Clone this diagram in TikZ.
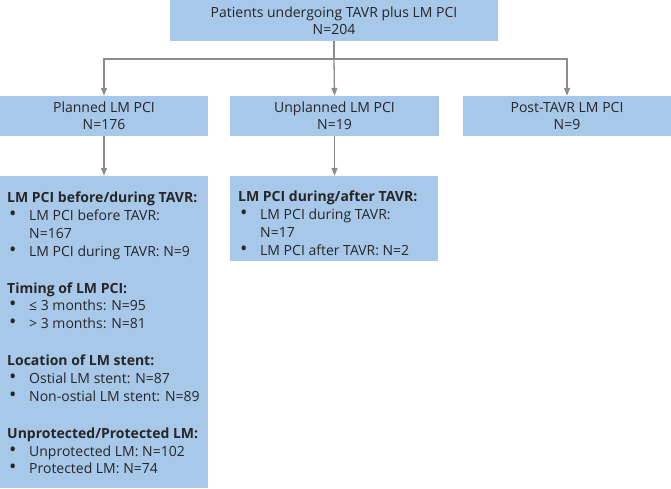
\documentclass[tikz,border=0pt]{standalone}
\usepackage{fontspec}
\setmainfont{Open Sans}
\usepackage{tikz}
\usepackage{xcolor}
\usetikzlibrary{arrows.meta}
\definecolor{boxblue}{HTML}{A7C8E9}
\definecolor{linegrey}{HTML}{8C8C8C}
\colorlet{textgrey}{black!85}

\newcommand{\itm}[1]{\makebox[22pt][l]{\hspace{2pt}\scalebox{1.4}{\textbullet}}#1}
\newcommand{\cont}[1]{\hspace*{22pt}#1}

\tikzset{
    box/.style={fill=boxblue, inner sep=0pt, align=center, text=textgrey,
        font=\fontsize{14}{17}\selectfont},
    listtext/.style={inner sep=0pt, anchor=north west, align=left, text=textgrey,
        font=\fontsize{14}{17.7}\selectfont},
    link/.style={linegrey, line width=1.3pt, -{Triangle[length=8pt, width=6pt]}}
}

\begin{document}
\begin{tikzpicture}[x=1pt, y=-1pt]
    \useasboundingbox (0, 0) rectangle (671, 488);

    \node[box, minimum width=328, minimum height=41] (all) at (334, 20.5)
        {Patients undergoing TAVR plus LM PCI\\N=204};
    \node[box, minimum width=208, minimum height=40] (planned) at (104, 116)
        {Planned LM PCI\\N=176};
    \node[box, minimum width=209, minimum height=40] (unplanned) at (334.5, 116)
        {Unplanned LM PCI\\N=19};
    \node[box, minimum width=208, minimum height=40] (post) at (567, 116)
        {Post-TAVR LM PCI\\N=9};

    \node[box, minimum width=208, minimum height=312] (planneddet) at (104, 332) {};
    \node[box, minimum width=208, minimum height=85] (unplanneddet) at (334, 218.5) {};

    \node[listtext] (plannedlist) at (7, 192) {%
        \textbf{LM PCI before/during TAVR:}\\
        \itm{LM PCI before TAVR:}\\
        \cont{N=167}\\
        \itm{LM PCI during TAVR: N=9}\\[19.5pt]
        \textbf{Timing of LM PCI:}\\
        \itm{≤ 3 months: N=95}\\
        \itm{> 3 months: N=81}\\[19.5pt]
        \textbf{Location of LM stent:}\\
        \itm{Ostial LM stent: N=87}\\
        \itm{Non-ostial LM stent: N=89}\\[19.5pt]
        \textbf{Unprotected/Protected LM:}\\
        \itm{Unprotected LM: N=102}\\
        \itm{Protected LM: N=74}};
    \node[listtext] (unplannedlist) at (238, 191) {%
        \textbf{LM PCI during/after TAVR:}\\
        \itm{LM PCI during TAVR:}\\
        \cont{N=17}\\
        \itm{LM PCI after TAVR: N=2}};

    \coordinate (split) at (334, 59);
    \draw[linegrey, line width=1.3pt] (all.south) -- (split);
    \draw[link] (split) -| (planned.north);
    \draw[link] (split) -- (unplanned.north);
    \draw[link] (split) -| (post.north);
    \draw[link] (planned.south) -- (planneddet.north);
    \draw[link] (unplanned.south) -- (unplanned.south |- unplanneddet.north);
\end{tikzpicture}
\end{document}
